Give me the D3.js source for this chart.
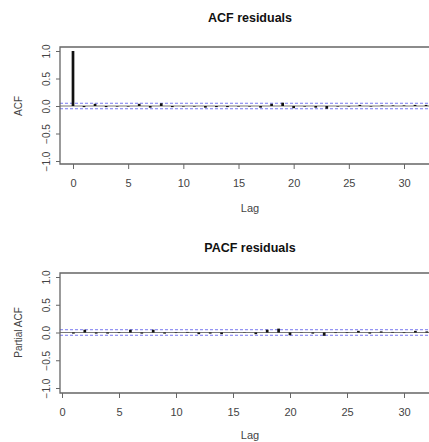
<!DOCTYPE html>
<html><head><meta charset="utf-8">
<script src="https://cdn.jsdelivr.net/npm/d3@7"></script>
<style>
html,body{margin:0;padding:0;background:#fff;overflow:hidden;}
svg{display:block;font-family:"Liberation Sans",Arial,Helvetica,sans-serif;overflow:hidden;}
</style></head>
<body>
<svg id="chart" width="429" height="442"></svg>
<script>
const acfLags = d3.range(0, 33);
const acfValues = [1.0, -0.02, 0.04, -0.02, -0.01, -0.01, 0.04, -0.03, 0.05, -0.02, -0.01, -0.01, -0.03, -0.02, -0.02, -0.01, -0.01, -0.03, 0.04, 0.06, -0.04, -0.01, -0.03, -0.05, -0.01, -0.01, 0.02, -0.01, 0.01, 0.01, 0.01, 0.02, 0.02];
const pacfLags = d3.range(1, 33);
const pacfValues = [-0.02, 0.05, -0.02, -0.02, -0.01, 0.05, -0.02, 0.05, -0.02, -0.01, 0.01, -0.03, -0.02, -0.03, -0.005, 0.005, -0.03, 0.05, 0.07, -0.05, -0.005, -0.02, -0.06, -0.01, -0.01, 0.03, -0.02, 0.02, 0.01, -0.01, 0.03, 0.02];
const xTicks = [0, 5, 10, 15, 20, 25, 30];
const yTicks = [-1.0, -0.5, 0.0, 0.5, 1.0];
const ciBound = 0.05;

const svg = d3.select("#chart");
svg.append("rect").attr("width", 429).attr("height", 442).attr("fill", "#fff");

function panel(cfg) {
  const g = svg.append("g");
  const x = d3.scaleLinear().domain([0, 30]).range(cfg.xr);
  const y = d3.scaleLinear().domain([-1, 1]).range(cfg.yr);
  g.append("text").attr("x", 250).attr("y", cfg.titleY).attr("text-anchor", "middle")
    .attr("font-size", 12.5).attr("font-weight", "bold").attr("fill", "#111").text(cfg.title);
  g.append("line").attr("x1", cfg.box[0]).attr("x2", 429).attr("y1", y(0)).attr("y2", y(0))
    .attr("stroke", "#777").attr("stroke-width", 1);
  [ciBound, -ciBound].forEach(v => {
    g.append("line").attr("x1", cfg.box[0]).attr("x2", 429).attr("y1", y(v)).attr("y2", y(v))
      .attr("stroke", "#5555ee").attr("stroke-width", 1).attr("stroke-dasharray", "3,2").attr("opacity", 0.8);
  });
  g.selectAll(".bar").data(cfg.lags.map((l, i) => ({l, v: cfg.vals[i]}))).enter().append("line")
    .attr("x1", d => x(d.l)).attr("x2", d => x(d.l))
    .attr("y1", y(0)).attr("y2", d => y(d.v))
    .attr("stroke", "#111").attr("stroke-width", 2.7);
  g.append("path")
    .attr("d", `M429,${cfg.box[1]}H${cfg.box[0]}V${cfg.box[2]}H429`)
    .attr("fill", "none").attr("stroke", "#666").attr("stroke-width", 1.3);
  const xa = g.append("g").attr("transform", `translate(0,${cfg.box[2]})`)
    .call(d3.axisBottom(x).tickValues(xTicks).tickSize(5).tickPadding(10).tickFormat(d3.format("d")));
  xa.select(".domain").remove();
  xa.selectAll(".tick line").attr("stroke", "#666");
  xa.selectAll("text").attr("font-size", 11).attr("fill", "#444").attr("font-family", "Liberation Sans, Arial, sans-serif");
  const ya = g.append("g").attr("transform", `translate(${cfg.box[0]},0)`)
    .call(d3.axisLeft(y).tickValues(yTicks).tickSize(4).tickFormat(d3.format(".1f")));
  ya.select(".domain").remove();
  ya.selectAll(".tick line").attr("stroke", "#666");
  ya.selectAll("text").attr("font-size", 10).attr("fill", "#444")
    .attr("font-family", "Liberation Sans, Arial, sans-serif")
    .attr("transform", "translate(-14,0) rotate(-90)").attr("text-anchor", "middle").attr("x", 0).attr("dy", "0.35em");
  g.append("text").attr("x", 250).attr("y", cfg.lagY).attr("text-anchor", "middle")
    .attr("font-size", 11).attr("fill", "#444").text("Lag");
  g.append("text").attr("transform", `translate(22,${y(0)}) rotate(-90)`).attr("text-anchor", "middle")
    .attr("font-size", 10).attr("fill", "#444").text(cfg.ylab);
}

panel({title: "ACF residuals", titleY: 22, xr: [73, 404], yr: [161, 51], box: [60, 47, 164],
       lags: acfLags, vals: acfValues, lagY: 212, ylab: "ACF"});
panel({title: "PACF residuals", titleY: 252, xr: [62, 404], yr: [388, 277], box: [60, 273, 393],
       lags: pacfLags, vals: pacfValues, lagY: 439, ylab: "Partial ACF"});
</script>
</body></html>
